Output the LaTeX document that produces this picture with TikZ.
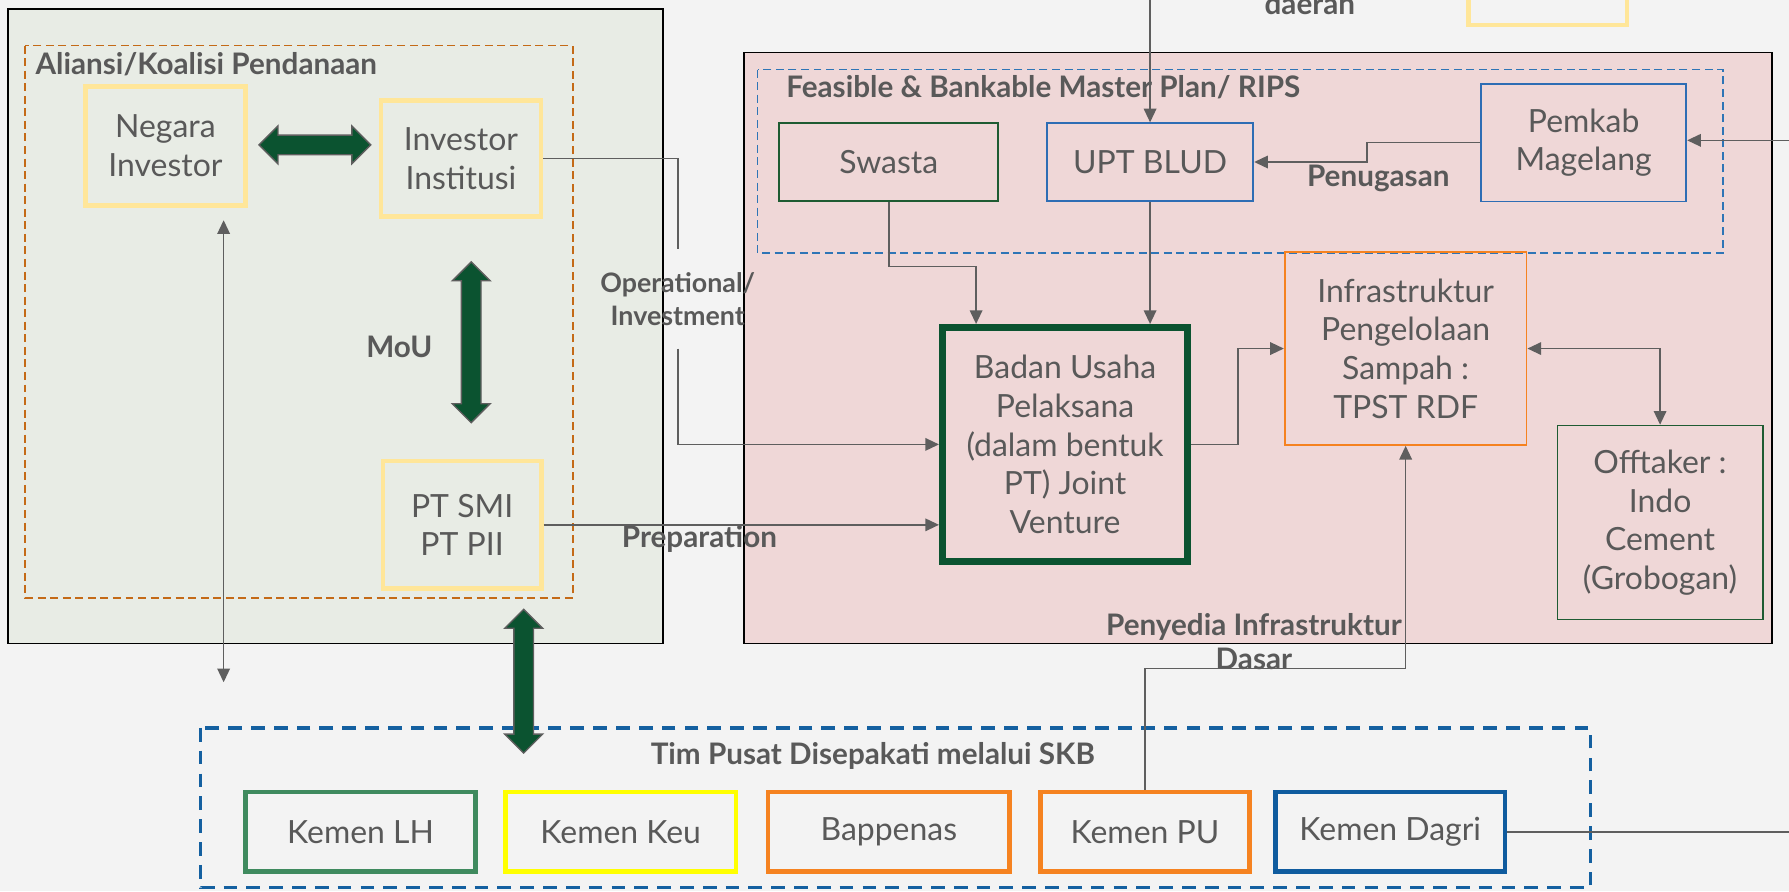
\documentclass[tikz,border=0pt]{standalone}
\usepackage{fontspec}
\setmainfont{Lato}
\usetikzlibrary{arrows.meta,shapes.arrows}
\definecolor{bggray}{HTML}{F3F3F3}
\definecolor{txtgray}{HTML}{595959}
\definecolor{linegray}{HTML}{5E5E5E}
\definecolor{leftfill}{HTML}{E8ECE5}
\definecolor{pinkfill}{HTML}{EFD7D7}
\definecolor{orangedash}{HTML}{C46A17}
\definecolor{bluedash}{HTML}{2E75B6}
\definecolor{skbblue}{HTML}{1460A0}
\definecolor{lightyellow}{HTML}{FFE699}
\definecolor{jvgreen}{HTML}{0B5330}
\definecolor{thingreen}{HTML}{1E5B32}
\definecolor{thinblue}{HTML}{2E6DB4}
\definecolor{infraorange}{HTML}{F58220}
\definecolor{lhgreen}{HTML}{3F8A5E}
\definecolor{keuyellow}{HTML}{FFFF00}
\definecolor{dagriblue}{HTML}{0F5B9E}
\begin{document}
\begin{tikzpicture}[x=1pt,y=-1pt,>={Triangle[length=12pt,width=11pt]},
	txt/.style={text=txtgray,font=\fontsize{28}{34}\selectfont,align=center},
	lbl/.style={text=txtgray,font=\bfseries\fontsize{26}{30}\selectfont,align=center,inner sep=0pt},
	box/.style={txt,draw,rectangle,inner sep=2pt},
	link/.style={draw=linegray,line width=1.4pt},
	fatarrow/.style={double arrow,draw=linegray,line width=1.2pt,fill=jvgreen,inner xsep=0pt,inner ysep=8pt,double arrow head extend=8pt,minimum height=#1}]
	\useasboundingbox[fill=bggray] (0,0) rectangle (1568,781);
	% groups
	\draw[fill=leftfill,line width=1.5pt] (7,8) rectangle (581,564);
	\draw[orangedash,dash pattern=on 7pt off 4pt,line width=1.4pt] (22,40) rectangle (502,524);
	\draw[fill=pinkfill,line width=1.5pt] (652,46) rectangle (1553,564);
	\draw[bluedash,dash pattern=on 7pt off 4pt,line width=1.4pt] (664,61) rectangle (1510,222);
	\draw[skbblue,dash pattern=on 12pt off 8pt,line width=2.8pt] (176,638) rectangle (1394,778);
	\draw[lightyellow,line width=4pt] (1287,-20) rectangle (1426,22);
	\node[lbl,anchor=west] (aliansi) at (31,56) {Aliansi/Koalisi Pendanaan};
	\node[lbl,anchor=west] (rips) at (689,76) {Feasible \& Bankable Master Plan/ RIPS};
	\node[lbl] (tim) at (765,663) {Tim Pusat Disepakati melalui SKB};
	\node[lbl,anchor=base] (daerah) at (1148,13) {daerah};
	% funding side
	\node[box,draw=lightyellow,line width=4pt,minimum width=140,minimum height=104] (neg) at (145,128) {Negara\\Investor};
	\node[box,draw=lightyellow,line width=4pt,minimum width=140,minimum height=102] (inv) at (404,139) {Investor\\Institusi};
	\node[box,draw=lightyellow,line width=4pt,minimum width=139,minimum height=112] (smi) at (405,460) {PT SMI\\PT PII};
	\node[fatarrow=98] (mouh) at (276,127) {};
	\node[fatarrow=141,rotate=90] (mouv) at (413,300) {};
	\node[fatarrow=126,rotate=90] (skbv) at (459,597) {};
	\node[lbl] (mou) at (350,304) {MoU};
	% project side
	\node[box,draw=thingreen,line width=1.5pt,minimum width=192,minimum height=68] (swasta) at (779,142) {Swasta};
	\node[box,draw=thinblue,line width=1.5pt,minimum width=181,minimum height=68] (upt) at (1008,142) {UPT BLUD};
	\node[box,draw=thinblue,line width=1.5pt,minimum width=180,minimum height=103] (pemkab) at (1388,125) {Pemkab\\Magelang};
	\node[box,draw=jvgreen,line width=6pt,minimum width=215,minimum height=205] (bju) at (933.5,389.5) {Badan Usaha\\Pelaksana\\(dalam bentuk\\PT) Joint\\Venture};
	\node[box,draw=infraorange,line width=1.5pt,minimum width=212,minimum height=169] (infra) at (1232,305.5) {Infrastruktur\\Pengelolaan\\Sampah :\\TPST RDF};
	\node[box,draw=thingreen,line width=1.5pt,minimum width=180,minimum height=170] (off) at (1455,458) {Offtaker :\\Indo\\Cement\\(Grobogan)};
	% ministries
	\node[box,draw=lhgreen,line width=4pt,minimum width=202,minimum height=70] (lh) at (316,729) {Kemen LH};
	\node[box,draw=keuyellow,line width=4pt,minimum width=202,minimum height=70] (keu) at (544,729) {Kemen Keu};
	\node[box,draw=infraorange,line width=4pt,minimum width=212,minimum height=70] (bap) at (779,729) {Bappenas};
	\node[box,draw=infraorange,line width=4pt,minimum width=183,minimum height=70] (pu) at (1003.5,729) {Kemen PU};
	\node[box,draw=dagriblue,line width=4pt,minimum width=201,minimum height=70] (dagri) at (1218.5,729) {Kemen Dagri};
	% edge labels
	\node[lbl,inner ysep=20pt,font=\bfseries\fontsize{23.5}{29}\selectfont] (op) at (594,262) {Operational/\\Investment};
	\node[lbl] (prep) at (613,472) {Preparation};
	\node[lbl] (tugas) at (1208,156) {Penugasan};
	\node[lbl] (dasar) at (1099,562) {Penyedia Infrastruktur\\Dasar};
	\coordinate (nbot) at (196,598);
	\coordinate (ttop) at (1008,-5);
	\coordinate (rin) at (1575,123);
	\coordinate (rout) at (1575,729);
	% connectors
	\draw[link,<->,shorten <=11pt] (neg.south -| nbot) -- (nbot);
	\draw[link] (inv.east) -| (op.north);
	\draw[link,->] (op.south) |- (bju.west);
	\draw[link,->] (smi.east) -- (smi.east -| bju.west);
	\draw[link,->] (ttop) -- (upt.north);
	\draw[link,->] (rin) -- (rin -| pemkab.east);
	\draw[link,->] (pemkab.west) -- ++(-99,0) |- (upt.east);
	\draw[link,->] (swasta.south) -- ++(0,57) -| ([xshift=-78pt]bju.north);
	\draw[link,->] (upt.south) -- (upt.south |- bju.north);
	\draw[link,->] (bju.east) -- ++(41,0) |- (infra.west);
	\draw[link,<->] (infra.east) -| (off.north);
	\draw[link,->] (pu.north) -- ++(0,-106) -| (infra.south);
	\draw[link] (dagri.east) -- (rout);
\end{tikzpicture}
\end{document}
